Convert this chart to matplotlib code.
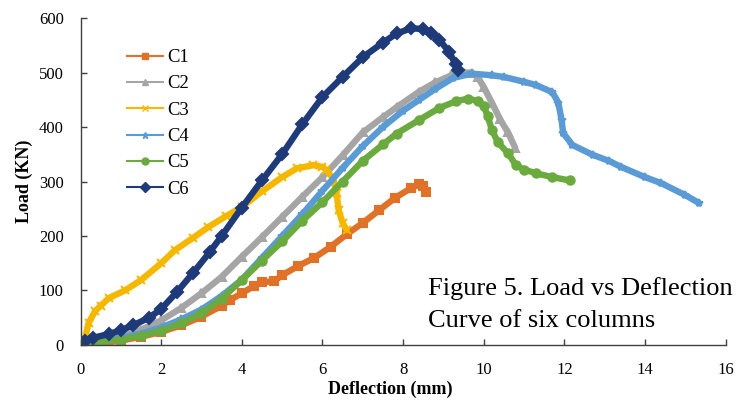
# -*- coding: utf-8 -*-
import numpy as np
import matplotlib
matplotlib.use('Agg')
import matplotlib.pyplot as plt
from matplotlib.lines import Line2D

### load-deflection data (deflection mm, load kN)
c1_x = [0, 0.5, 1.0, 1.5, 2.0, 2.5, 3.0, 3.5, 3.7, 4.0, 4.3, 4.5, 4.8, 5.0, 5.4,
        5.8, 6.2, 6.6, 7.0, 7.4, 7.8, 8.2, 8.4, 8.5, 8.58]
c1_y = [0, 3, 8, 15, 24, 36, 52, 72, 82, 95, 108, 115, 117, 128, 145,
        160, 180, 203, 224, 247, 270, 288, 296, 292, 280]

c2_x = [0, 0.5, 1.0, 1.5, 2.0, 2.5, 3.0, 3.5, 4.0, 4.5, 5.0, 5.5, 6.0, 6.5, 7.0,
        7.5, 7.85, 8.4, 8.8, 9.2, 9.5, 9.7, 9.85, 10.0, 10.2, 10.4, 10.6, 10.78]
c2_y = [0, 6, 15, 28, 45, 68, 95, 125, 162, 198, 235, 272, 308, 348, 390,
        418, 437, 465, 482, 495, 500, 500, 492, 473, 445, 415, 390, 362]

c3_x = [0, 0.1, 0.2, 0.36, 0.5, 0.7, 1.1, 1.5, 2.0, 2.34, 2.8, 3.16, 3.6, 4.0,
        4.5, 5.0, 5.36, 5.77, 6.0, 6.1, 6.26, 6.35, 6.4, 6.5, 6.6]
c3_y = [0, 9, 40, 62, 72, 86, 100, 119, 150, 174, 197, 216, 236, 253,
        282, 308, 324, 330, 327, 321, 306, 279, 248, 224, 211]

c4_x = [0, 0.5, 1.0, 1.5, 2.0, 2.5, 3.0, 3.5, 4.0, 4.5, 5.0, 5.5, 6.0, 6.5, 7.0,
        7.5, 8.0, 8.4, 8.8, 9.24, 9.7, 10.2, 10.5, 11.0, 11.3, 11.7, 11.85,
        11.93, 11.97, 12.2, 12.7, 13.1, 13.4, 14.0, 14.4, 15.0, 15.35]
c4_y = [0, 7, 13, 21, 32, 47, 65, 90, 120, 160, 200, 240, 283, 325, 365,
        400, 430, 450, 470, 490, 498, 495, 492, 483, 477, 464, 445,
        413, 389, 367, 349, 338, 327, 308, 297, 275, 260]

c5_x = [0, 0.5, 1.0, 1.5, 2.0, 2.5, 3.0, 3.5, 4.0, 4.5, 5.0, 5.5, 6.0, 6.5, 7.0,
        7.5, 7.84, 8.4, 8.9, 9.3, 9.6, 9.85, 10.0, 10.1, 10.2, 10.35, 10.6,
        10.8, 11.0, 11.3, 11.7, 12.13]
c5_y = [0, 5, 10, 17, 26, 40, 58, 85, 119, 155, 190, 228, 262, 300, 338,
        368, 388, 413, 435, 447, 452, 448, 438, 420, 395, 372, 352,
        330, 322, 315, 308, 302]

c6_x = [0, 0.1, 0.3, 0.7, 1.0, 1.3, 1.7, 2.0, 2.4, 2.8, 3.2, 3.5, 4.0, 4.5, 5.0,
        5.5, 6.0, 6.5, 7.0, 7.5, 7.85, 8.2, 8.5, 8.7, 8.9, 9.15, 9.3, 9.35]
c6_y = [0, 8, 13, 20, 27, 36, 50, 66, 98, 133, 170, 200, 252, 302, 350,
        405, 455, 492, 528, 555, 572, 581, 580, 573, 560, 537, 515, 505]

labels = ['C1', 'C2', 'C3', 'C4', 'C5', 'C6']
x_ticks = [0, 2, 4, 6, 8, 10, 12, 14, 16]
y_ticks = [0, 100, 200, 300, 400, 500, 600]

colors = ['#E07128', '#A5A5A5', '#F5B800', '#5B9BD5', '#6AAA3F', '#1F3A78']
markers = ['s', '^', 'x', '*', 'o', 'D']


def plot_curves(figname='out.png'):
    plt.rcParams['font.family'] = ['Liberation Serif', 'DejaVu Serif']
    fig = plt.figure(figsize=(7.42, 4.01), dpi=100)
    ax = fig.add_axes([0.1085, 0.1397, 0.8695, 0.8153])

    series = [(c1_x, c1_y), (c2_x, c2_y), (c3_x, c3_y),
              (c4_x, c4_y), (c5_x, c5_y), (c6_x, c6_y)]
    for (xd, yd), c, m in zip(series, colors, markers):
        ax.plot(xd, yd, color=c, lw=4.6, marker=m, ms=6, mec=c, mfc=c, mew=1.5,
                solid_capstyle='round', solid_joinstyle='round')

    ax.set_xlim(0, 16)
    ax.set_ylim(0, 600)
    ax.set_xticks(x_ticks)
    ax.set_yticks(y_ticks)
    ax.tick_params(direction='in', length=4, width=1, color='#404040',
                   labelsize=12, pad=12)
    for s in ['top', 'right']:
        ax.spines[s].set_visible(False)
    for s in ['left', 'bottom']:
        ax.spines[s].set_color('#404040')
        ax.spines[s].set_linewidth(1)

    ax.set_xlabel('Deflection (mm)', fontsize=13, fontweight='bold')
    ax.xaxis.set_label_coords(0.48, -0.11)
    ax.set_ylabel('Load (KN)', fontsize=13, fontweight='bold', labelpad=4)

    ### legend with thin handles
    handles = [Line2D([0], [0], color=c, lw=1.5, marker=m, ms=5, mec=c, mfc=c)
               for c, m in zip(colors, markers)]
    leg = ax.legend(handles, labels, loc='upper left',
                    bbox_to_anchor=(0.072, 0.905), frameon=False,
                    fontsize=13.4, labelspacing=0.5, handlelength=1.95,
                    handletextpad=0.2, borderpad=0, borderaxespad=0)

    fig.text(0.577, 1 - 295 / 401., 'Figure 5. Load vs Deflection',
             fontsize=19, va='baseline', ha='left')
    fig.text(0.577, 1 - 327 / 401., 'Curve of six columns',
             fontsize=19, va='baseline', ha='left')

    fig.savefig(figname, dpi=100)
    return fig


if __name__ == '__main__':
    plot_curves()
